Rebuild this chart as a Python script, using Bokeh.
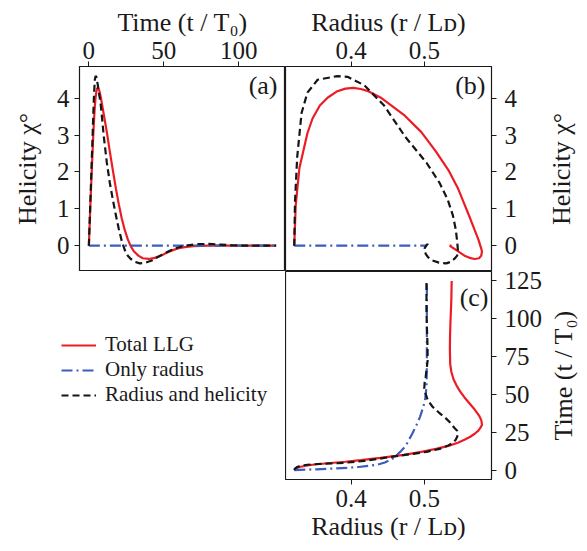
import math
from bokeh.plotting import figure
from bokeh.models import Range1d, FixedTicker, Label, Legend, LegendItem
from bokeh.layouts import column, row
from bokeh.embed import file_html
from bokeh.resources import INLINE

# ---------------- data ----------------
# Total LLG
t_llg = [0, 1, 2, 3, 3.5, 4, 4.5, 5, 5.5, 6, 6.5, 7, 8, 10, 12, 14, 16, 18, 20, 22, 24, 26, 28, 30,
         33, 36, 40, 44, 48, 52, 56, 60, 65, 70, 80, 90, 100, 112, 125]
chi_llg = [0, 1.1, 2.1, 3.05, 3.45, 3.8, 4.02, 4.18, 4.26, 4.28, 4.25, 4.2, 4.02, 3.55, 3.08, 2.55, 2.05, 1.56, 1.12, 0.73, 0.42, 0.17, -0.02, -0.15,
           -0.27, -0.34, -0.36, -0.33, -0.27, -0.19, -0.12, -0.07, -0.03, -0.01, 0, 0, 0, 0, 0]
r_llg = [0.322, 0.324, 0.329, 0.340, 0.347, 0.357, 0.368, 0.380, 0.392, 0.403, 0.413, 0.422, 0.440, 0.472, 0.496, 0.516, 0.533, 0.546, 0.555, 0.563, 0.569, 0.574, 0.577, 0.579,
         0.578, 0.575, 0.569, 0.562, 0.555, 0.549, 0.544, 0.540, 0.537, 0.5355, 0.535, 0.5353, 0.536, 0.537, 0.5375]

# Only radius
t_or = [0, 0.5, 1, 1.5, 2, 3, 4, 5, 7, 9.5, 12, 16, 20, 24, 30, 35, 40, 46, 55, 70, 90, 125]
r_or = [0.322, 0.352, 0.375, 0.395, 0.41, 0.428, 0.439, 0.446, 0.455, 0.4615, 0.467, 0.4745, 0.479, 0.4835, 0.4895,
        0.494, 0.4975, 0.501, 0.503, 0.5035, 0.5035, 0.5035]
chi_or = [0, 0, 0, 0, 0, 0, 0, 0, 0, 0, 0, 0, 0, 0, 0, 0, 0, 0, 0, 0, 0, 0]

# Radius and helicity
t_rh = [0, 1, 2, 3, 3.5, 4, 4.5, 5, 6, 8, 10, 12, 14, 16, 18, 20, 22, 24, 26, 28, 31,
        34, 38, 42, 46, 50, 54, 58, 62, 66, 72, 80, 88, 96, 105, 125]
chi_rh = [0, 1.2, 2.4, 3.6, 4.15, 4.5, 4.6, 4.58, 4.35, 3.8, 2.95, 2.25, 1.7, 1.25, 0.83, 0.45, 0.12, -0.12, -0.27, -0.36, -0.44,
          -0.48, -0.46, -0.40, -0.31, -0.22, -0.14, -0.07, -0.02, 0.01, 0.04, 0.05, 0.03, 0.01, 0.0, 0.0]
r_rh = [0.322, 0.323, 0.326, 0.332, 0.340, 0.354, 0.381, 0.395, 0.418, 0.445, 0.474, 0.503, 0.521, 0.532, 0.539, 0.543, 0.545, 0.546, 0.545, 0.541, 0.536,
        0.53, 0.52, 0.511, 0.505, 0.502, 0.500, 0.5005, 0.502, 0.503, 0.5045, 0.5045, 0.504, 0.5035, 0.503, 0.503]

series_names = ["Total LLG", "Only radius", "Radius and helicity"]
time_ticks = [0, 50, 100]
time_ticks_c = [0, 25, 50, 75, 100, 125]
chi_ticks = [0, 1, 2, 3, 4]
radius_ticks = [0.4, 0.5]

time_label = "Time (t / T\u2080)"
radius_label = "Radius (r / L\u1d05)"
chi_label = "Helicity \u03c7\u00b0"

# ---------------- style ----------------
FONT = "Liberation Serif"
TXT = "#1a1a1a"
RED = "#ec1c24"
BLUE = "#3d5cbf"
BLACK = "#151515"
LW = 2.2
DASH = "7 4"
DASHDOT = "11 4 2 4"
TICK_FS = "25px"
LABEL_FS = "26px"

FW, FH_TOP, FH_BOT = 206, 205, 208
TOP_B, BOT_B, LEFT_B, RIGHT_B, TITLE_W = 66, 68, 79, 52, 36
OVERLAP = 8   # lower row reaches up under the upper row so the "125" label is not cut

t_rng = (-6.25, 131.25)
chi_rng = (-0.70, 4.86)
r_rng = (0.310, 0.592)


def style_axis(ax, ticks, label, label_standoff, tick_standoff):
    ax.ticker = FixedTicker(ticks=ticks)
    ax.axis_label = label
    ax.axis_label_text_font = FONT
    ax.axis_label_text_font_size = LABEL_FS
    ax.axis_label_text_font_style = "normal"
    ax.axis_label_text_color = TXT
    ax.axis_label_standoff = label_standoff
    ax.major_label_text_font = FONT
    ax.major_label_text_font_size = TICK_FS
    ax.major_label_text_color = TXT
    ax.major_label_standoff = tick_standoff
    ax.major_tick_out = 5
    ax.major_tick_in = 0
    ax.minor_tick_out = 0
    ax.minor_tick_in = 0
    ax.major_tick_line_color = TXT
    ax.axis_line_color = TXT


def base_fig(xr, yr, xloc, yloc, **kw):
    p = figure(frame_width=FW, x_range=Range1d(*xr), y_range=Range1d(*yr),
               x_axis_location=xloc, y_axis_location=yloc,
               toolbar_location=None, output_backend="svg", **kw)
    p.grid.visible = False
    p.outline_line_color = TXT
    p.outline_line_width = 1.2
    p.background_fill_color = None
    p.border_fill_color = None
    return p


def blank_fig(**kw):
    p = figure(x_range=Range1d(10, 11), y_range=Range1d(10, 11),
               x_axis_location=None, y_axis_location=None, toolbar_location=None,
               output_backend="svg", **kw)
    p.outline_line_color = None
    p.background_fill_color = None
    p.border_fill_color = None
    for g in p.grid:
        g.visible = False
    return p


def panel_label(p, text, xo, yo):
    p.add_layout(Label(x=p.x_range.end, y=p.y_range.end, text=text, x_offset=xo, y_offset=yo,
                       text_align="right", text_baseline="top", text_font=FONT,
                       text_font_size=LABEL_FS, text_color=TXT))


def title_fig(text, fh, top, bottom):
    # narrow strip holding a vertical axis title that reads bottom to top
    p = blank_fig(frame_width=TITLE_W, frame_height=fh, min_border_left=0, min_border_right=0,
                  min_border_top=top, min_border_bottom=bottom)
    p.add_layout(Label(x=10.5, y=10.5, text=text, angle=math.pi / 2,
                       text_align="center", text_baseline="middle",
                       text_font=FONT, text_font_size=LABEL_FS, text_color=TXT))
    return p


def draw(p, xs, ys):
    (x1, x2, x3), (y1, y2, y3) = xs, ys
    r1 = p.line(x1, y1, line_color=RED, line_width=LW)
    r2 = p.line(x2, y2, line_color=BLUE, line_width=LW, line_dash=DASHDOT)
    r3 = p.line(x3, y3, line_color=BLACK, line_width=LW, line_dash=DASH)
    return r1, r2, r3


# (a) helicity vs time
pa = base_fig(t_rng, chi_rng, "above", "left", frame_height=FH_TOP,
              min_border_left=LEFT_B, min_border_right=0, min_border_top=TOP_B, min_border_bottom=0)
draw(pa, (t_llg, t_or, t_rh), (chi_llg, chi_or, chi_rh))
style_axis(pa.xaxis[0], time_ticks, time_label, 2, 3)
style_axis(pa.yaxis[0], chi_ticks, chi_label, 12, 5)
panel_label(pa, "(a)", -8, -4)

# (b) helicity vs radius
pb = base_fig(r_rng, chi_rng, "above", "right", frame_height=FH_TOP,
              min_border_left=0, min_border_right=RIGHT_B, min_border_top=TOP_B, min_border_bottom=0)
draw(pb, (r_llg, r_or, r_rh), (chi_llg, chi_or, chi_rh))
style_axis(pb.xaxis[0], radius_ticks, radius_label, 2, 3)
style_axis(pb.yaxis[0], chi_ticks, None, 0, 8)
panel_label(pb, "(b)", -6, -4)
tb = title_fig(chi_label, FH_TOP, TOP_B, 0)

# (c) time vs radius
pc = base_fig(r_rng, t_rng, "below", "right", frame_height=FH_BOT,
              min_border_left=0, min_border_right=RIGHT_B, min_border_top=OVERLAP, min_border_bottom=BOT_B)
draw(pc, (r_llg, r_or, r_rh), (t_llg, t_or, t_rh))
style_axis(pc.xaxis[0], radius_ticks, radius_label, 2, 5)
style_axis(pc.yaxis[0], time_ticks_c, None, 0, 8)
panel_label(pc, "(c)", -3, -11)
tc = title_fig(time_label, FH_BOT, OVERLAP, BOT_B)

# legend panel (its lines lie outside its own ranges, only the legend shows)
pl = blank_fig(frame_width=LEFT_B + FW, frame_height=FH_BOT, min_border_left=0, min_border_top=OVERLAP,
               min_border_right=0, min_border_bottom=BOT_B)
lr1, lr2, lr3 = draw(pl, (r_llg, r_or, r_rh), (chi_llg, chi_or, chi_rh))
legend = Legend(items=[LegendItem(label=series_names[0], renderers=[lr1]),
                       LegendItem(label=series_names[1], renderers=[lr2]),
                       LegendItem(label=series_names[2], renderers=[lr3])],
                location="top_left", orientation="vertical",
                border_line_color=None, background_fill_alpha=0,
                padding=0, margin=61, spacing=0,
                glyph_width=35, glyph_height=24, label_height=24, label_standoff=9,
                label_text_font=FONT, label_text_font_size="21px", label_text_color=TXT)
pl.add_layout(legend)

layout = column(row(pa, pb, tb), row(pl, pc, tc, margin=(-OVERLAP, 0, 0, 0)))
open("out.html", "w").write(file_html(layout, INLINE))
